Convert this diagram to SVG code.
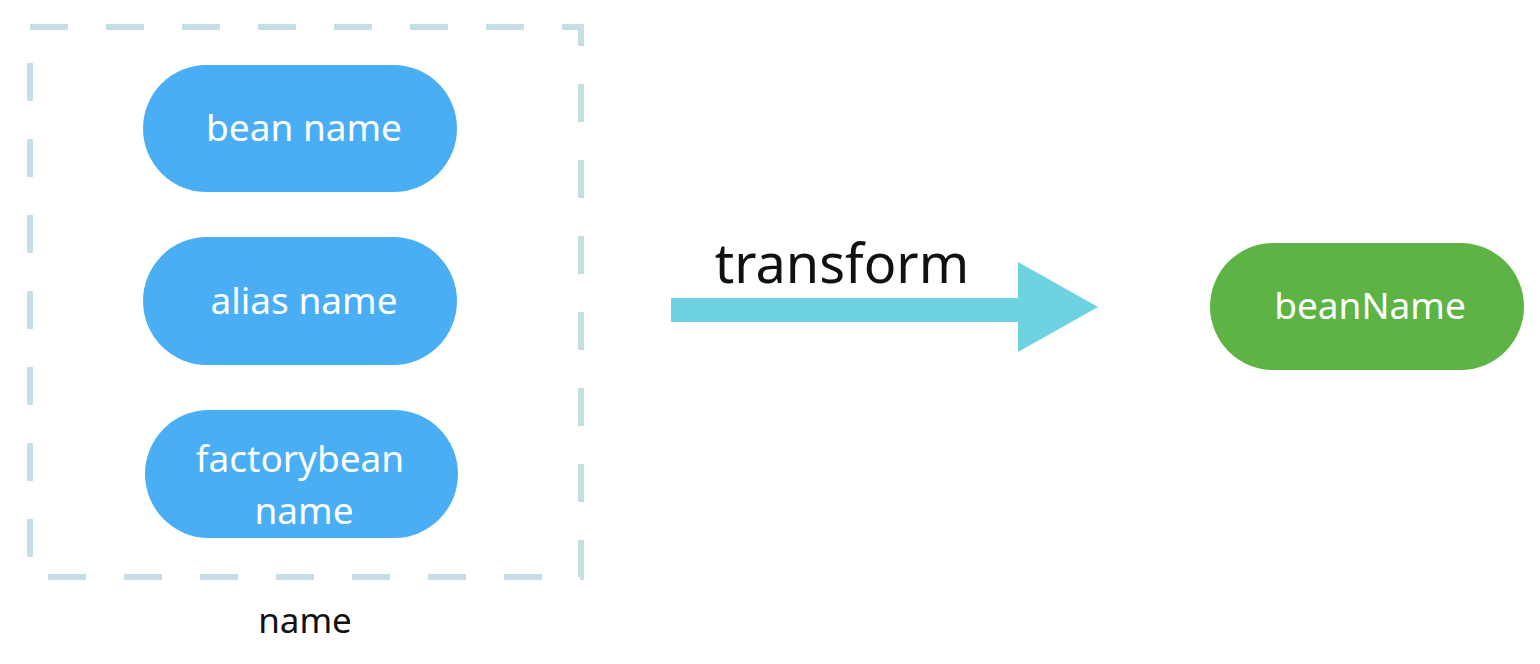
<svg xmlns="http://www.w3.org/2000/svg" width="1540" height="664" viewBox="0 0 1540 664">
<style>
.pill{fill:#4aaef5}
.green{fill:#5db444}
.lbl{font-family:"Noto Sans","Open Sans",sans-serif;font-size:37px;fill:#ffffff;text-anchor:middle}
.blk{font-family:"Noto Sans","Open Sans",sans-serif;fill:#111111;text-anchor:middle}
</style>
<rect width="1540" height="664" fill="#ffffff"/>
<g id="group-name">
<rect x="30" y="27" width="551" height="550" fill="none" stroke="#c6dfe6" stroke-width="6" stroke-dasharray="38 38"/>
<text class="blk" x="305" y="633" font-size="35">name</text>
</g>
<g id="bean-name">
<rect class="pill" x="143" y="65" width="314" height="127" rx="63.5"/>
<text class="lbl" x="304" y="141">bean name</text>
</g>
<g id="alias-name">
<rect class="pill" x="143" y="237" width="314" height="128" rx="64"/>
<text class="lbl" x="304" y="314">alias name</text>
</g>
<g id="factorybean-name">
<rect class="pill" x="145" y="410" width="313" height="128" rx="64"/>
<text class="lbl" x="300" y="472">factorybean</text>
<text class="lbl" x="304" y="524">name</text>
</g>
<g id="beanName">
<rect class="green" x="1210" y="243" width="314" height="127" rx="63.5"/>
<text class="lbl" x="1370" y="319">beanName</text>
</g>
<g id="connectors">
<path d="M671 298 H1018 V262 L1098 307 L1018 352 V322 H671 Z" fill="#6dd3e3"/>
<text class="blk" x="842" y="283" font-size="54">transform</text>
</g>
</svg>
